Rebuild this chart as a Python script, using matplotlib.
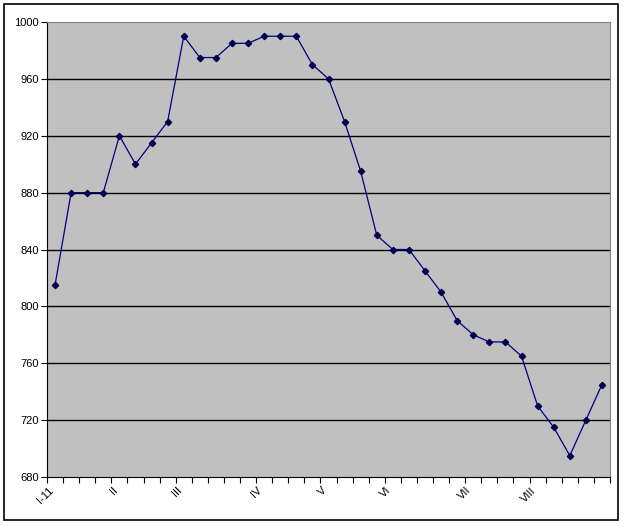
import numpy as np
import matplotlib.pyplot as plt
from matplotlib.patches import Rectangle

# weekly values
values = [815, 880, 880, 880, 920, 900, 915, 930, 990, 975, 975, 985, 985,
          990, 990, 990, 970, 960, 930, 895, 850, 840, 840, 825, 810, 790,
          780, 775, 775, 765, 730, 715, 695, 720, 745]
month_pos = [0, 4, 8, 13, 17, 21, 26, 30]
month_labels = ['I-11', 'II', 'III', 'IV', 'V', 'VI', 'VII', 'VIII']
y_ticks = [680, 720, 760, 800, 840, 880, 920, 960, 1000]

plt.rcParams['font.family'] = ['Liberation Sans', 'DejaVu Sans']

fig = plt.figure(figsize=(6.4, 5.26), dpi=100)
ax = fig.add_axes([47/640, 1 - 477/526, 563/640, 455/526])

x = np.arange(len(values))
ax.set_facecolor('#c0c0c0')
ax.plot(x, values, color='#000080', lw=0.9, marker='D', ms=3.2,
        mfc='#000050', mec='#000050', zorder=3)

ax.set_xlim(-0.5, len(values) - 0.5)
ax.set_ylim(680, 1000)
ax.set_yticks(y_ticks)
ax.set_yticklabels([str(v) for v in y_ticks], fontsize=8)
for v in y_ticks[1:-1]:
    ax.axhline(v, color='black', lw=1, zorder=1)

ax.set_xticks(np.arange(len(values) + 1) - 0.5, minor=False)
ax.set_xticklabels([])
ax.set_xticks(month_pos, minor=True)
ax.set_xticklabels(month_labels, minor=True, rotation=45, ha='right',
                   va='top', fontsize=8)
ax.tick_params(axis='x', which='minor', length=0, pad=6)
ax.tick_params(axis='x', which='major', length=4, direction='out', width=0.8)
ax.tick_params(axis='y', length=4, direction='out', width=0.8, pad=2)

ax.spines['left'].set_color('black')
ax.spines['bottom'].set_color('black')
ax.spines['top'].set_color('#808080')
ax.spines['right'].set_color('#808080')

fig.patches.append(Rectangle((4/640, 1 - 520/526), 614/640, 516/526,
                             transform=fig.transFigure, fill=False,
                             edgecolor='black', lw=1.2))

fig.savefig('out.png', dpi=100)
